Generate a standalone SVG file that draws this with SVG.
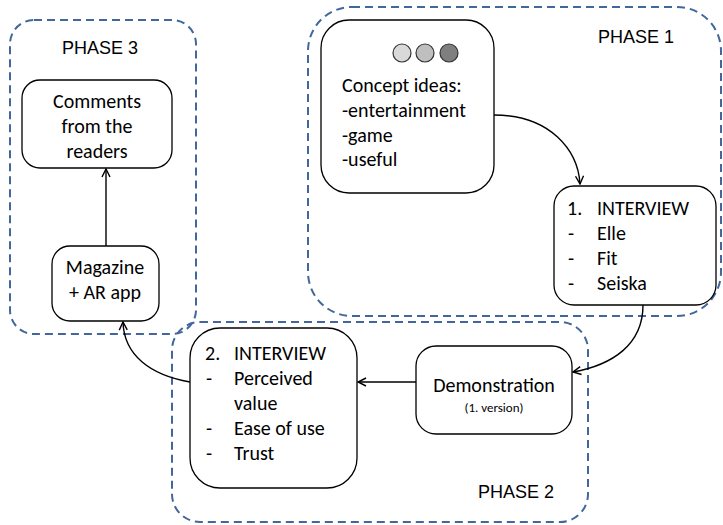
<svg xmlns="http://www.w3.org/2000/svg" width="723" height="525" viewBox="0 0 723 525">
<defs>
<style>
.phase{fill:none;stroke:#42679a;stroke-width:2;stroke-dasharray:8,5}
.box{fill:#fff;stroke:#000;stroke-width:1.3}
.t{font-family:Carlito,Lato,"Liberation Sans",sans-serif;font-size:20px;fill:#000}
.c{text-anchor:middle}
.ph{font-family:"Liberation Sans",Arial,sans-serif;font-size:18px;fill:#000}
.conn{fill:none;stroke:#000;stroke-width:1.4}
.dot{stroke:#333;stroke-width:1.2}
</style>
<marker id="arr" viewBox="0 0 10 10" refX="9" refY="5" markerWidth="10" markerHeight="10" markerUnits="userSpaceOnUse" orient="auto">
<path d="M1,1 L9,5 L1,9" fill="none" stroke="#000" stroke-width="1.4"/>
</marker>
</defs>
<rect width="723" height="525" fill="#fff"/>

<g id="phase3">
<rect class="phase" x="10" y="20" width="186" height="314" rx="24"/>
<text class="ph c" x="100" y="54">PHASE 3</text>
</g>
<g id="phase1">
<rect class="phase" x="308" y="7" width="413" height="309" rx="44"/>
<text class="ph" x="598" y="43">PHASE 1</text>
</g>
<g id="phase2">
<rect class="phase" x="172" y="322" width="416" height="200" rx="28"/>
<text class="ph" x="478" y="498">PHASE 2</text>
</g>

<g id="concept">
<rect class="box" x="321" y="20" width="173" height="173" rx="28"/>
<circle class="dot" cx="402" cy="53" r="9" fill="#d9d9d9"/>
<circle class="dot" cx="425" cy="53" r="9" fill="#bfbfbf"/>
<circle class="dot" cx="449" cy="53" r="9" fill="#7f7f7f"/>
<text class="t" x="342" y="92">Concept ideas:</text>
<text class="t" x="342" y="117">-entertainment</text>
<text class="t" x="342" y="142">-game</text>
<text class="t" x="342" y="166">-useful</text>
</g>

<g id="interview1">
<rect class="box" x="554" y="186" width="162" height="119" rx="20"/>
<text class="t" x="567" y="215">1.</text><text class="t" x="597" y="215">INTERVIEW</text>
<text class="t" x="568" y="240">-</text><text class="t" x="597" y="240">Elle</text>
<text class="t" x="568" y="265">-</text><text class="t" x="597" y="265">Fit</text>
<text class="t" x="568" y="290">-</text><text class="t" x="597" y="290">Seiska</text>
</g>

<g id="demonstration">
<rect class="box" x="416" y="346" width="156" height="88" rx="20"/>
<text class="t c" x="494" y="392">Demonstration</text>
<text class="t c" x="494" y="412" style="font-size:13px">(1. version)</text>
</g>

<g id="interview2">
<rect class="box" x="190" y="328" width="167" height="160" rx="30"/>
<text class="t" x="205" y="360">2.</text><text class="t" x="234" y="360">INTERVIEW</text>
<text class="t" x="206" y="385">-</text><text class="t" x="234" y="385">Perceived</text>
<text class="t" x="234" y="410">value</text>
<text class="t" x="206" y="435">-</text><text class="t" x="234" y="435">Ease of use</text>
<text class="t" x="206" y="460">-</text><text class="t" x="234" y="460">Trust</text>
</g>

<g id="comments">
<rect class="box" x="22" y="80" width="150" height="88" rx="18"/>
<text class="t c" x="97" y="108">Comments</text>
<text class="t c" x="97" y="133">from the</text>
<text class="t c" x="97" y="158">readers</text>
</g>

<g id="magazine">
<rect class="box" x="52" y="246" width="107" height="75" rx="18"/>
<text class="t c" x="105" y="274">Magazine</text>
<text class="t c" x="105" y="299">+ AR app</text>
</g>

<g id="connectors">
<path class="conn" d="M494,115 C550,115 578,150 580,184" marker-end="url(#arr)"/>
<path class="conn" d="M643,305 C643,345 612,365 573,372" marker-end="url(#arr)"/>
<path class="conn" d="M416,382 L358,382" marker-end="url(#arr)"/>
<path class="conn" d="M190,382 C150,375 124,355 123,322" marker-end="url(#arr)"/>
<path class="conn" d="M106,246 L106,169" marker-end="url(#arr)"/>
</g>
</svg>
